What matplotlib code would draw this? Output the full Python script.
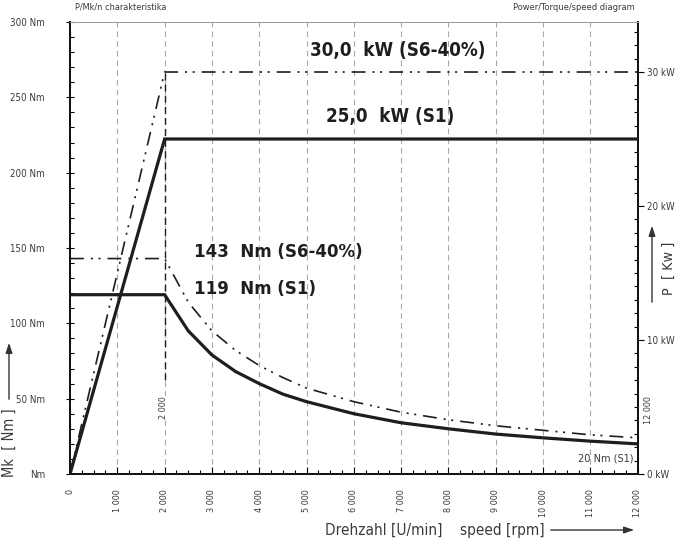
import matplotlib
matplotlib.use("Agg")
import matplotlib.pyplot as plt
from matplotlib.ticker import MultipleLocator, FixedLocator
from matplotlib import font_manager
from matplotlib.font_manager import FontProperties

# ---------------- data ----------------
speed_base = 2000
speed_max = 12000

# torque curves (Nm)
torque_speed = [0, 2000, 2500, 3000, 3500, 4000, 4500, 5000, 6000, 7000, 8000, 9000, 10000, 11000, 12000]
torque_s1 = [119, 119, 95, 79, 68, 60, 53, 48, 40, 34, 30, 26.5, 24, 21.8, 20]
torque_s6 = [143, 143, 114, 95, 82, 72, 64, 57, 48, 41, 36, 32, 29, 26, 24]

# power curves (kW)
power_speed = [0, 2000, 12000]
power_s1 = [0, 25.0, 25.0]
power_s6 = [0, 30.0, 30.0]

x_ticks = [0, 1000, 2000, 3000, 4000, 5000, 6000, 7000, 8000, 9000, 10000, 11000, 12000]
x_tick_labels = ["0", "1 000", "2 000", "3 000", "4 000", "5 000", "6 000", "7 000",
                 "8 000", "9 000", "10 000", "11 000", "12 000"]
nm_ticks = [0, 50, 100, 150, 200, 250, 300]
nm_tick_labels = ["Nm", "50 Nm", "100 Nm", "150 Nm", "200 Nm", "250 Nm", "300 Nm"]
kw_ticks = [0, 10, 20, 30]
kw_tick_labels = ["0 kW", "10 kW", "20 kW", "30 kW"]

# ---------------- fonts ----------------
def find_condensed(bold):
    best = None
    for f in font_manager.fontManager.ttflist:
        name = (f.name + " " + f.fname).lower()
        stretch = str(f.stretch).lower()
        is_cond = ("condensed" in name or "narrow" in name or "condensed" in stretch)
        if not is_cond or "extra" in name or "ultra" in name:
            continue
        if "italic" in f.fname.lower() or "oblique" in f.fname.lower() or f.style != "normal":
            continue
        w = f.weight if isinstance(f.weight, int) else (700 if "bold" in str(f.weight) else 400)
        if bold and w >= 600:
            if best is None:
                best = f.fname
        if not bold and w < 600:
            if best is None:
                best = f.fname
    return best

reg_file = find_condensed(False)
bold_file = find_condensed(True)
scale = 1.0 if reg_file is not None else 0.9


def fp(size, bold=False):
    if bold and bold_file:
        return FontProperties(fname=bold_file, size=size)
    if (not bold) and reg_file:
        return FontProperties(fname=reg_file, size=size)
    return FontProperties(family="DejaVu Sans", size=size * scale,
                          weight="bold" if bold else "normal")

plt.rcParams["lines.scale_dashes"] = False

TXT = "#3a3a3a"
DARK = "#1e1e1e"

fig = plt.figure(figsize=(6.85, 5.49), dpi=100)
ax = fig.add_axes([70 / 685, 75 / 549, (637.7 - 70) / 685, (474 - 22) / 549])
ax2 = ax.twinx()

ax.set_xlim(0, speed_max)
ax.set_ylim(0, 300)
ax2.set_ylim(0, 300 * 1.5067 / 13.4)

# grid (vertical dashed)
for xv in x_ticks[1:-1]:
    ax.axvline(xv, color="#a8a8a8", lw=0.8, dashes=(4, 3), zorder=0)

s6_dash = (10, 5, 1.5, 4, 1.5, 5)

# torque
ax.plot(torque_speed, torque_s1, color=DARK, lw=2.3, solid_joinstyle="miter", zorder=3)
ax.plot(torque_speed, torque_s6, color=DARK, lw=1.2, dashes=s6_dash, zorder=3)
# power
ax2.plot(power_speed, power_s1, color=DARK, lw=2.3, solid_joinstyle="miter", zorder=3)
ax2.plot(power_speed, power_s6, color=DARK, lw=1.2, dashes=s6_dash, zorder=3)
# base-speed marker line
ax2.plot([speed_base, speed_base], [7.0, power_s6[1]], color=DARK, lw=1.0, dashes=(5, 3), zorder=2)

# spines
for a in (ax, ax2):
    a.spines["top"].set_color("#9a9a9a")
    a.spines["top"].set_linewidth(0.7)
    for s in ("left", "right", "bottom"):
        a.spines[s].set_color("#111111")
        a.spines[s].set_linewidth(1.3)

# x ticks
ax.xaxis.set_major_locator(FixedLocator(x_ticks))
ax.set_xticklabels(x_tick_labels, rotation=90, color=TXT)
ax.xaxis.set_minor_locator(MultipleLocator(250))
ax.tick_params(axis="x", which="major", direction="in", length=5, width=0.8, pad=11)
ax.tick_params(axis="x", which="minor", direction="in", length=3, width=0.8)
for lbl in ax.get_xticklabels():
    lbl.set_va("top")
    lbl.set_fontproperties(fp(6.5))

# left ticks
ax.yaxis.set_major_locator(FixedLocator(nm_ticks))
ax.set_yticklabels(nm_tick_labels, color=TXT)
ax.yaxis.set_minor_locator(MultipleLocator(10))
ax.tick_params(axis="y", which="major", direction="inout", length=6, width=0.8, pad=15)
ax.tick_params(axis="y", which="minor", direction="in", length=3, width=0.8)
for lbl in ax.get_yticklabels():
    lbl.set_fontproperties(fp(7))

# right ticks
ax2.yaxis.set_major_locator(FixedLocator(kw_ticks))
ax2.set_yticklabels(kw_tick_labels, color=TXT)
ax2.yaxis.set_minor_locator(MultipleLocator(1))
ax2.tick_params(axis="y", which="major", direction="out", length=4, width=0.8, pad=3)
ax2.tick_params(axis="y", which="minor", direction="in", length=3, width=0.8)
for lbl in ax2.get_yticklabels():
    lbl.set_fontproperties(fp(7))

# annotations
bold = dict(color=DARK, va="center", ha="left")
ax.text(5074, 281.4, "30,0  kW (S6-40%)", fontproperties=fp(13.5, True), **bold)
ax.text(5412, 237.6, "25,0  kW (S1)", fontproperties=fp(13.5, True), **bold)
ax.text(2622, 147.3, "143  Nm (S6-40%)", fontproperties=fp(13.3, True), **bold)
ax.text(2622, 122.8, "119  Nm (S1)", fontproperties=fp(13.3, True), **bold)
ax.text(11903, 10.6, "20 Nm (S1)", fontproperties=fp(7.8), color=TXT, ha="right", va="center")
ax.text(1975, 43.8, "2 000", fontproperties=fp(6.5), color=TXT, rotation=90, ha="center", va="center",
        bbox=dict(facecolor="white", edgecolor="none", pad=0.5), zorder=4)
ax.text(12220, 42.5, "12 000", fontproperties=fp(6.5), color=TXT, rotation=90, ha="center", va="center",
        clip_on=False)

# titles
fig.text(75 / 685, 1 - 7 / 549, "P/Mk/n charakteristika", fontproperties=fp(6.6), color=TXT, ha="left", va="center")
fig.text(635 / 685, 1 - 7 / 549, "Power/Torque/speed diagram", fontproperties=fp(6.7), color=TXT, ha="right", va="center")

# axis labels with arrows
arrow = dict(arrowstyle="-|>,head_length=0.6,head_width=0.2", color="#333333", lw=1.0)
fig.text(9 / 685, 1 - 443 / 549, "Mk  [ Nm ]", fontproperties=fp(10.5), color=TXT, rotation=90, ha="center", va="center")
ax.annotate("", xy=(9, 549 - 340), xytext=(9, 549 - 402), xycoords="figure pixels",
            textcoords="figure pixels", arrowprops=arrow, annotation_clip=False)
fig.text(669 / 685, 1 - 268 / 549, "P  [ Kw ]", fontproperties=fp(10.3), color=TXT, rotation=90, ha="center", va="center")
ax.annotate("", xy=(652, 549 - 223), xytext=(652, 549 - 305), xycoords="figure pixels",
            textcoords="figure pixels", arrowprops=arrow, annotation_clip=False)
fig.text(545 / 685, 19 / 549, "Drehzahl [U/min]    speed [rpm]", fontproperties=fp(11), color=TXT, ha="right", va="center")
ax.annotate("", xy=(637, 19), xytext=(548, 19), xycoords="figure pixels",
            textcoords="figure pixels", arrowprops=arrow, annotation_clip=False)

fig.savefig("out.png", dpi=100)
